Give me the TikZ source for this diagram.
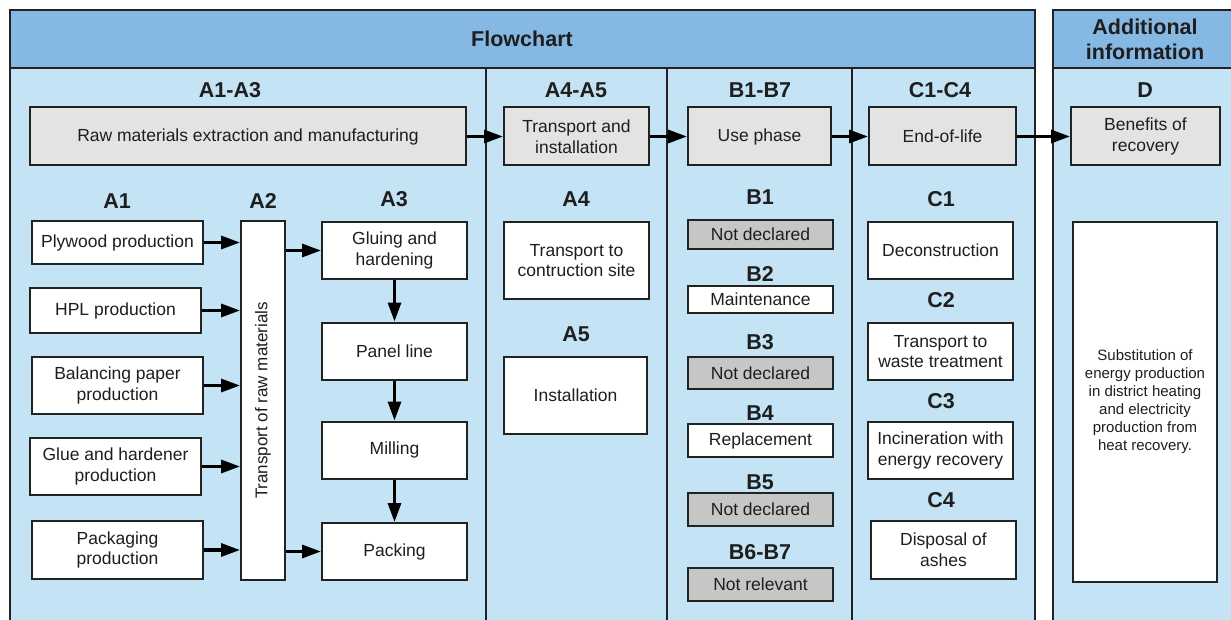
\documentclass[tikz,border=0pt]{standalone}
\usepackage{fontspec}
\setmainfont{Liberation Sans}
\usetikzlibrary{arrows.meta}
\definecolor{hdrblue}{HTML}{85B9E4}
\definecolor{bodyblue}{HTML}{C4E4F6}
\definecolor{boxgray}{HTML}{E3E3E3}
\definecolor{ndgray}{HTML}{C6C6C6}
\definecolor{linedark}{HTML}{222222}
\definecolor{textdark}{HTML}{1E1E1E}

\begin{document}
\begin{tikzpicture}[x=1pt, y=-1pt,
  frame/.style={draw=linedark, line width=1.5pt},
  stage/.style={font=\bfseries\fontsize{21.5}{25}\selectfont, align=center, text=textdark, inner sep=0pt},
  procbox/.style={draw=linedark, line width=2pt, inner sep=0pt, align=center, text=textdark,
    font=\fontsize{17.5}{20.7}\selectfont},
  gbox/.style={procbox, fill=boxgray},
  wbox/.style={procbox, fill=white},
  nbox/.style={procbox, fill=ndgray},
  flow/.style={-{Triangle[length=19pt,width=13pt]}, line width=3.2pt, color=black}]
  \useasboundingbox (0,0) rectangle (1231,620);

  % frames
  \fill[hdrblue] (10,10) rectangle (1035,68);
  \fill[bodyblue] (10,68) rectangle (1035,640);
  \fill[hdrblue] (1053,10) rectangle (1245,68);
  \fill[bodyblue] (1053,68) rectangle (1245,640);
  \draw[frame] (10,640) |- (1035,10) -- (1035,640) (10,68) -- (1035,68);
  \draw[frame] (1053,640) |- (1245,10) (1053,68) -- (1245,68);
  \foreach \x in {486,667,852} \draw[frame] (\x,68) -- (\x,640);

  \node[stage] (flowchart) at (522,39) {Flowchart};
  \node[stage] (info) at (1145,39) {Additional\\information};

  % stages
  \node[stage] (ta) at (230,90) {A1-A3};
  \node[stage] (tab) at (576,90) {A4-A5};
  \node[stage] (tb) at (760,90) {B1-B7};
  \node[stage] (tc) at (940,90) {C1-C4};
  \node[stage] (td) at (1145,90) {D};

  \node[gbox, minimum width=436, minimum height=58] (raw) at (248,136.5) {Raw materials extraction and manufacturing};
  \node[gbox, minimum width=145, minimum height=58] (trans) at (576.5,136.5) {Transport and\\installation};
  \node[gbox, minimum width=143, minimum height=58] (use) at (759.5,136.5) {Use phase};
  \node[gbox, minimum width=147, minimum height=58] (eol) at (942.5,136.5) {End-of-life};
  \node[gbox, minimum width=149, minimum height=58] (ben) at (1145.5,136.5) {Benefits of\\recovery};

  % A1 - A3
  \node[stage] (ta1) at (117,201) {A1};
  \node[stage] (ta2) at (263,201) {A2};
  \node[stage] (ta3) at (394,199) {A3};
  \node[wbox, minimum width=171, minimum height=43] (ply) at (117.5,242.5) {Plywood production};
  \node[wbox, minimum width=171, minimum height=45] (hpl) at (115.5,310.5) {HPL production};
  \node[wbox, minimum width=171, minimum height=57] (bal) at (117.5,385.5) {Balancing paper\\production};
  \node[wbox, minimum width=171, minimum height=57] (glue) at (115.5,466.5) {Glue and hardener\\production};
  \node[wbox, minimum width=171, minimum height=58] (pkg) at (117.5,550) {Packaging\\production};
  \node[wbox, minimum width=44, minimum height=359] (a2) at (263,400.5) {};
  \node[rotate=90, text=textdark, font=\fontsize{17}{20}\selectfont] (a2txt) at (a2.center) {Transport of raw materials};
  \node[wbox, minimum width=145, minimum height=57] (glu) at (394.5,250.5) {Gluing and\\hardening};
  \node[wbox, minimum width=145, minimum height=57] (pan) at (394.5,351) {Panel line};
  \node[wbox, minimum width=145, minimum height=57] (mill) at (394.5,450) {Milling};
  \node[wbox, minimum width=145, minimum height=57] (pack) at (394.5,551.5) {Packing};

  % A4 - A5
  \node[stage] (ta4) at (576,199.5) {A4};
  \node[wbox, minimum width=145, minimum height=77] (site) at (576.5,260.5) {Transport to\\contruction site};
  \node[stage] (ta5) at (576,334.5) {A5};
  \node[wbox, minimum width=143, minimum height=77] (inst) at (575.5,395.5) {Installation};

  % B1 - B7
  \node[stage] (tb1) at (760,197.5) {B1};
  \node[nbox, minimum width=145, minimum height=29] (b1) at (760.5,234.5) {Not declared};
  \node[stage] (tb2) at (760,274) {B2};
  \node[wbox, minimum width=145, minimum height=27] (b2) at (760.5,299.5) {Maintenance};
  \node[stage] (tb3) at (760,342.5) {B3};
  \node[nbox, minimum width=145, minimum height=32] (b3) at (760.5,373) {Not declared};
  \node[stage] (tb4) at (760,413.5) {B4};
  \node[wbox, minimum width=145, minimum height=33] (b4) at (760.5,440.5) {Replacement};
  \node[stage] (tb5) at (760,482.5) {B5};
  \node[nbox, minimum width=145, minimum height=33] (b5) at (760.5,509.5) {Not declared};
  \node[stage] (tb6) at (760,552.5) {B6-B7};
  \node[nbox, minimum width=145, minimum height=33] (b6) at (760.5,584.5) {Not relevant};

  % C1 - C4
  \node[stage] (tc1) at (941,199) {C1};
  \node[wbox, minimum width=145, minimum height=57] (c1) at (940.5,250.5) {Deconstruction};
  \node[stage] (tc2) at (941,300.5) {C2};
  \node[wbox, minimum width=145, minimum height=57] (c2) at (940.5,351.5) {Transport to\\waste treatment};
  \node[stage] (tc3) at (941,401) {C3};
  \node[wbox, minimum width=145, minimum height=57] (c3) at (940.5,450.5) {Incineration with\\energy recovery};
  \node[stage] (tc4) at (941,500.5) {C4};
  \node[wbox, minimum width=145, minimum height=58] (c4) at (943.5,550) {Disposal of\\ashes};

  % D
  \node[wbox, minimum width=144, minimum height=360, font=\fontsize{15}{18}\selectfont] (subst) at (1145,402)
    {Substitution of\\energy production\\in district heating\\and electricity\\production from\\heat recovery.};

  \path[flow]
  (raw) edge (trans)
  (trans) edge (use)
  (use) edge (eol)
  (eol) edge (ben)
  (ply.east) edge (ply.east -| a2.west)
  (hpl.east) edge (hpl.east -| a2.west)
  (bal.east) edge (bal.east -| a2.west)
  (glue.east) edge (glue.east -| a2.west)
  (pkg.east) edge (pkg.east -| a2.west)
  (glu.west -| a2.east) edge (glu.west)
  (pack.west -| a2.east) edge (pack.west)
  (glu) edge (pan)
  (pan) edge (mill)
  (mill) edge (pack);
\end{tikzpicture}
\end{document}
